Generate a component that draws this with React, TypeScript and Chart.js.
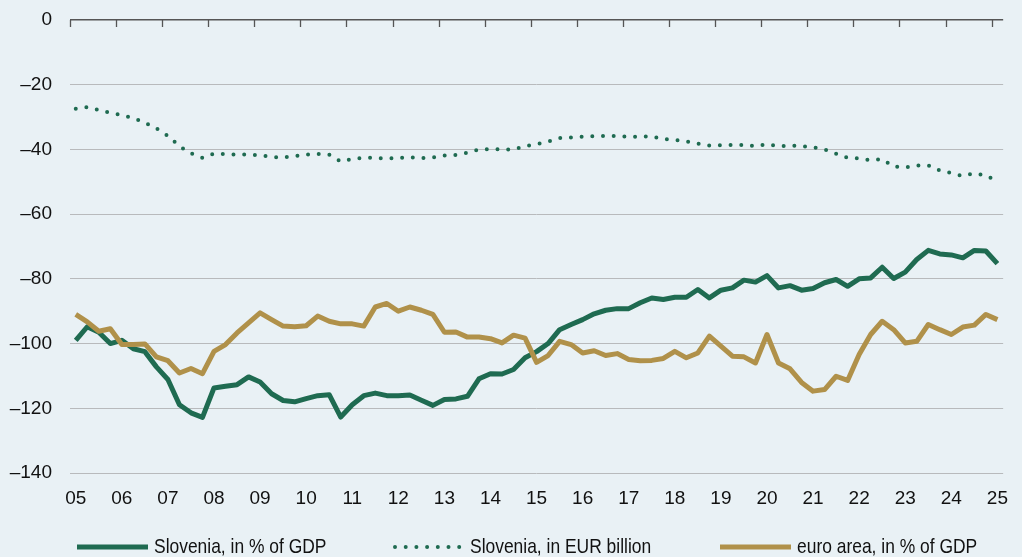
import React, { useEffect, useRef } from 'react';
import { Chart, registerables } from 'chart.js';

Chart.register(...registerables);

const yearLabels = ['05','06','07','08','09','10','11','12','13','14','15','16','17','18','19','20','21','22','23','24','25'];

// quarterly categories 2005Q1 .. 2025Q1
const categories: string[] = yearLabels.flatMap((y, k) =>
  k === yearLabels.length - 1 ? [`${y} Q1`] : ['Q1', 'Q2', 'Q3', 'Q4'].map(q => `${y} ${q}`)
);

const sloveniaPctGdp = [
  -99.0, -94.8, -96.5, -100.0, -99.0, -101.6, -102.5, -107.2, -111.1, -118.9,
  -121.4, -122.8, -113.7, -113.2, -112.7, -110.3, -111.9, -115.5, -117.6, -118.0,
  -117.0, -116.1, -115.8, -122.7, -118.9, -116.1, -115.3, -116.1, -116.1, -115.9,
  -117.5, -119.1, -117.3, -117.1, -116.3, -110.9, -109.3, -109.4, -108.0, -104.4,
  -102.5, -100.0, -95.7, -94.1, -92.6, -90.8, -89.7, -89.2, -89.2, -87.4,
  -85.9, -86.4, -85.7, -85.7, -83.3, -85.9, -83.5, -82.8, -80.4, -81.0,
  -79.0, -82.8, -82.1, -83.5, -83.0, -81.2, -80.2, -82.3, -80.0, -79.7,
  -76.4, -79.9, -77.9, -74.0, -71.2, -72.3, -72.6, -73.5, -71.2, -71.4,
  -75.3,
];

const sloveniaEurBn = [
  -27.4, -26.9, -27.8, -28.7, -29.4, -30.3, -31.7, -33.5, -35.8, -39.0,
  -41.2, -42.6, -41.3, -41.4, -41.6, -41.6, -41.8, -42.3, -42.5, -42.1,
  -41.6, -41.4, -41.6, -43.7, -43.0, -42.6, -42.6, -42.8, -42.7, -42.4,
  -42.7, -42.5, -41.9, -41.7, -41.0, -40.0, -39.9, -40.0, -40.0, -39.0,
  -38.4, -37.6, -36.5, -36.3, -36.1, -35.9, -35.8, -35.9, -36.1, -36.0,
  -36.0, -36.8, -37.1, -37.5, -38.2, -38.8, -38.7, -38.6, -38.6, -39.0,
  -38.4, -39.0, -38.8, -39.0, -39.3, -40.0, -41.3, -42.6, -42.8, -43.3,
  -43.0, -45.3, -45.6, -45.0, -44.9, -46.5, -47.3, -48.2, -47.4, -48.0,
  -49.9,
];

const euroAreaPctGdp = [
  -91.0, -93.3, -96.2, -95.4, -100.3, -100.3, -100.1, -104.1, -105.3, -109.1,
  -107.7, -109.3, -102.4, -100.3, -96.7, -93.6, -90.5, -92.6, -94.6, -94.8,
  -94.5, -91.5, -93.1, -93.9, -93.9, -94.6, -88.7, -87.6, -90.0, -88.7,
  -89.7, -91.0, -96.5, -96.4, -98.0, -98.0, -98.5, -99.8, -97.4, -98.3,
  -105.8, -103.7, -99.3, -100.3, -102.9, -102.2, -103.7, -103.1, -104.9, -105.3,
  -105.2, -104.6, -102.4, -104.4, -102.9, -97.7, -100.8, -103.9, -104.1, -106.0,
  -97.2, -106.0, -107.8, -112.0, -114.7, -114.2, -110.1, -111.4, -103.4, -97.2,
  -93.1, -95.7, -99.8, -99.3, -94.1, -95.7, -97.2, -94.9, -94.3, -91.0,
  -92.6,
];

const seriesLabels = ['Slovenia, in % of GDP', 'Slovenia, in EUR billion', 'euro area, in % of GDP'];

const GREEN = '#1f6b51';
const GOLD = '#b0914a';
const BG = '#e9f1f5';
const FONT = "'Liberation Sans', Arial, sans-serif";

const topAxisPlugin = {
  id: 'topAxisTicks',
  afterDatasetsDraw(chart: any) {
    const xs = chart.scales.x;
    const area = chart.chartArea;
    const ctx = chart.ctx;
    const half = (xs.getPixelForValue(1) - xs.getPixelForValue(0)) / 2;
    ctx.save();
    ctx.strokeStyle = '#555555';
    ctx.lineWidth = 1.3;
    ctx.beginPath();
    for (let k = 0; k < yearLabels.length; k++) {
      const x = Math.round(xs.getPixelForValue(k * 4) - half) + 0.5;
      ctx.moveTo(x, area.top);
      ctx.lineTo(x, area.top + 7);
    }
    ctx.stroke();
    ctx.restore();
  },
};

const legendPlugin = {
  id: 'customLegend',
  afterDraw(chart: any) {
    const ctx = chart.ctx;
    const y = 547;
    const slots = [
      { x: 77, w: 71 },
      { x: 395, w: 69 },
      { x: 720, w: 71 },
    ];
    chart.data.datasets.forEach((ds: any, i: number) => {
      const s = slots[i];
      ctx.save();
      ctx.strokeStyle = ds.borderColor;
      ctx.lineWidth = ds.borderWidth;
      ctx.lineCap = ds.borderCapStyle || 'butt';
      ctx.setLineDash(ds.borderDash || []);
      ctx.beginPath();
      ctx.moveTo(s.x, y);
      ctx.lineTo(s.x + s.w, y);
      ctx.stroke();
      ctx.setLineDash([]);
      ctx.fillStyle = '#111111';
      ctx.font = `21px ${FONT}`;
      ctx.textBaseline = 'middle';
      ctx.textAlign = 'left';
      ctx.translate(s.x + s.w + 6, y);
      ctx.scale(0.83, 1);
      ctx.fillText(ds.label, 0, 0);
      ctx.restore();
    });
  },
};

export default function App() {
  const canvasRef = useRef<HTMLCanvasElement | null>(null);

  useEffect(() => {
    document.body.style.margin = '0';
    document.body.style.background = BG;
    const canvas = canvasRef.current;
    if (!canvas) return;
    const chart = new Chart(canvas, {
      type: 'line',
      data: {
        labels: categories,
        datasets: [
          {
            label: seriesLabels[0],
            data: sloveniaPctGdp,
            borderColor: GREEN,
            backgroundColor: GREEN,
            borderWidth: 5,
            pointRadius: 0,
            borderJoinStyle: 'round',
            borderCapStyle: 'butt',
            tension: 0,
            order: 2,
          },
          {
            label: seriesLabels[1],
            data: sloveniaEurBn,
            borderColor: GREEN,
            backgroundColor: GREEN,
            borderWidth: 4,
            borderDash: [0, 10.7],
            borderCapStyle: 'round',
            pointRadius: 0,
            tension: 0,
            order: 1,
          },
          {
            label: seriesLabels[2],
            data: euroAreaPctGdp,
            borderColor: GOLD,
            backgroundColor: GOLD,
            borderWidth: 5,
            pointRadius: 0,
            borderJoinStyle: 'round',
            borderCapStyle: 'butt',
            tension: 0,
            order: 0,
          },
        ],
      },
      options: {
        responsive: false,
        animation: false,
        devicePixelRatio: 1,
        layout: { padding: { top: 20, right: 6, bottom: 40, left: 0 } },
        plugins: {
          legend: { display: false },
          tooltip: { enabled: false },
        },
        scales: {
          x: {
            type: 'category',
            offset: true,
            grid: { display: false, drawTicks: false },
            border: { display: false },
            ticks: {
              autoSkip: false,
              maxRotation: 0,
              minRotation: 0,
              padding: 14,
              color: '#111111',
              font: { family: FONT, size: 19 },
              callback: (_v: any, idx: number) => (idx % 4 === 0 ? yearLabels[idx / 4] : null),
            },
            afterFit: (scale: any) => {
              scale.height = 44;
            },
          },
          y: {
            min: -140,
            max: 0,
            grid: {
              drawTicks: false,
              color: (c: any) => (c.tick && c.tick.value === 0 ? '#555555' : '#b8babc'),
              lineWidth: (c: any) => (c.tick && c.tick.value === 0 ? 1.5 : 1),
            },
            border: { display: false },
            ticks: {
              stepSize: 20,
              padding: 18,
              color: '#111111',
              font: { family: FONT, size: 19 },
              callback: (v: any) => (v < 0 ? '\u2013' + Math.abs(v) : String(v)),
            },
            afterFit: (scale: any) => {
              scale.width = 70;
              scale.paddingTop = 0;
              scale.paddingBottom = 0;
            },
          },
        },
      },
      plugins: [topAxisPlugin, legendPlugin],
    });
    return () => chart.destroy();
  }, []);

  return (
    <div style={{ width: 1022, height: 557, background: BG }}>
      <canvas ref={canvasRef} width={1022} height={557} style={{ display: 'block' }} />
    </div>
  );
}
